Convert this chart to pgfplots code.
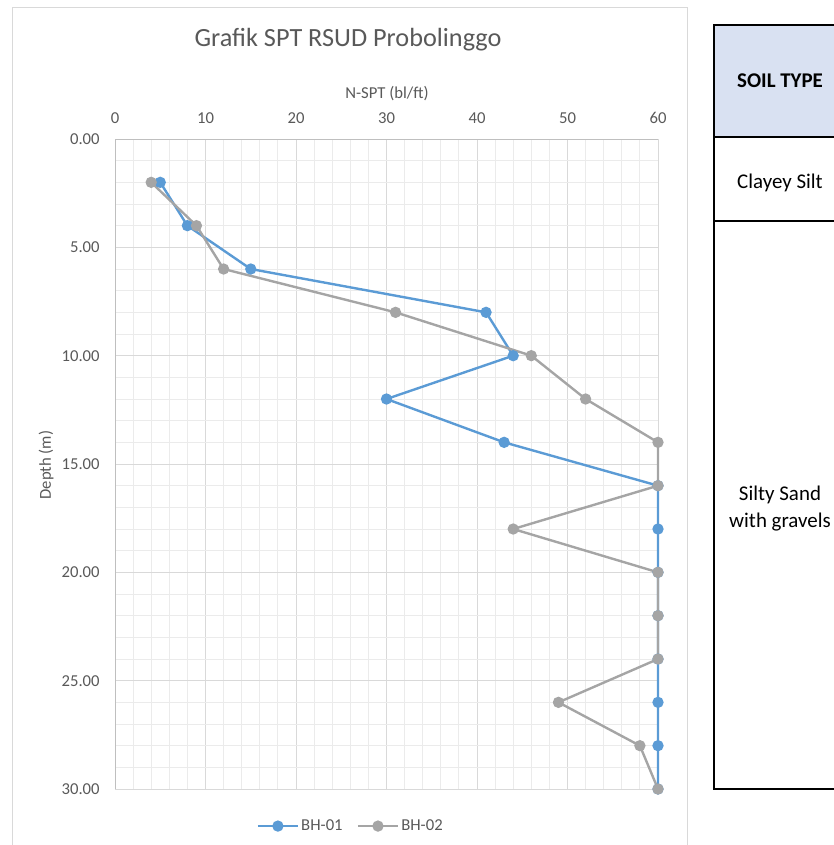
\documentclass[border=0pt]{standalone}
\usepackage{fontspec}
\setmainfont{Carlito}
\usepackage{pgfplots}
\pgfplotsset{compat=1.18}
\definecolor{bhblue}{HTML}{5B9BD5}
\definecolor{bhgray}{HTML}{A5A5A5}
\definecolor{txt}{HTML}{595959}
\definecolor{majg}{HTML}{D9D9D9}
\definecolor{ming}{HTML}{EBEBEB}
\definecolor{axg}{HTML}{BFBFBF}
\definecolor{hdr}{HTML}{D9E1F2}
\begin{document}
\begin{tikzpicture}
\begin{scope}[x=0.75pt,y=-0.75pt]
\useasboundingbox (0,0) rectangle (833,845);
\draw[majg, line width=0.75pt] (12,870) -- (12,8) -- (687,8) -- (687,870);
\node[txt, anchor=base, inner sep=0pt, font=\fontsize{19.7}{23}\selectfont] at (348,47) {Grafik SPT RSUD Probolinggo};
\node[txt, anchor=base, inner sep=0pt, font=\fontsize{12.5}{15}\selectfont] at (387,99) {N-SPT (bl/ft)};
\node[txt, rotate=90, inner sep=0pt, font=\fontsize{12.5}{15}\selectfont] at (46,465) {Depth (m)};
% table
\fill[hdr] (714,25) rectangle (850,137);
\draw[black, line width=1.3pt] (850,25) -- (714,25) -- (714,789) -- (850,789);
\draw[black, line width=1.1pt] (714,137) -- (850,137) (714,221) -- (850,221);
\node[anchor=base, inner sep=0pt, font=\fontsize{15.7}{18}\selectfont\bfseries] at (780,88) {SOIL TYPE};
\node[anchor=base, inner sep=0pt, font=\fontsize{15.7}{18}\selectfont] at (780,188) {Clayey Silt};
\node[anchor=base, inner sep=0pt, font=\fontsize{15.7}{18}\selectfont] at (780,500) {Silty Sand};
\node[anchor=base, inner sep=0pt, font=\fontsize{15.7}{18}\selectfont] at (780,527) {with gravels};
\end{scope}
\begin{axis}[
  at={(86.25pt,-104.25pt)}, anchor=north west,
  scale only axis, width=407.25pt, height=487.5pt,
  xmin=0, xmax=60, ymin=0, ymax=30,
  y dir=reverse,
  xticklabel pos=upper,
  xtick={0,10,...,60}, ytick={0,5,...,30},
  minor x tick num=4, minor y tick num=4,
  grid=both,
  major grid style={majg, line width=0.75pt},
  minor grid style={ming, line width=0.75pt},
  axis line style={majg, line width=0.75pt},
  major tick length=0pt, minor tick length=0pt,
  tick label style={txt, font=\fontsize{12.5}{15}\selectfont},
  /pgf/number format/assume math mode=true,
  yticklabel style={/pgf/number format/fixed, /pgf/number format/fixed zerofill, /pgf/number format/precision=2, xshift=-8pt},
  xticklabel style={yshift=8pt},
  clip=false,
  legend columns=2,
  legend style={at={(0.434,-0.057)}, anchor=center, draw=none, fill=none, font=\fontsize{12.5}{15}\selectfont, text=txt, column sep=0pt, nodes={inner xsep=1.5pt}, /tikz/every even column/.append style={column sep=9pt}},
  legend image code/.code={\draw[mark repeat=2,mark phase=2,#1] plot coordinates {(0cm,0cm) (0.53cm,0cm) (1.06cm,0cm)};},
]
\draw[axg, line width=0.75pt] (axis cs:0,30) -- (axis cs:0,0) -- (axis cs:60,0);
\addplot[bhblue, line width=1.8pt, mark=*, mark size=3.3pt, mark options={fill=bhblue, draw=bhblue}] coordinates {
(5,2)(8,4)(15,6)(41,8)(44,10)(30,12)(43,14)(60,16)(60,18)(60,20)(60,22)(60,24)(60,26)(60,28)(60,30)};
\addlegendentry{BH-01}
\addplot[bhgray, line width=1.8pt, mark=*, mark size=3.3pt, mark options={fill=bhgray, draw=bhgray}] coordinates {
(4,2)(9,4)(12,6)(31,8)(46,10)(52,12)(60,14)(60,16)(44,18)(60,20)(60,22)(60,24)(49,26)(58,28)(60,30)};
\addlegendentry{BH-02}
\end{axis}
\end{tikzpicture}
\end{document}
